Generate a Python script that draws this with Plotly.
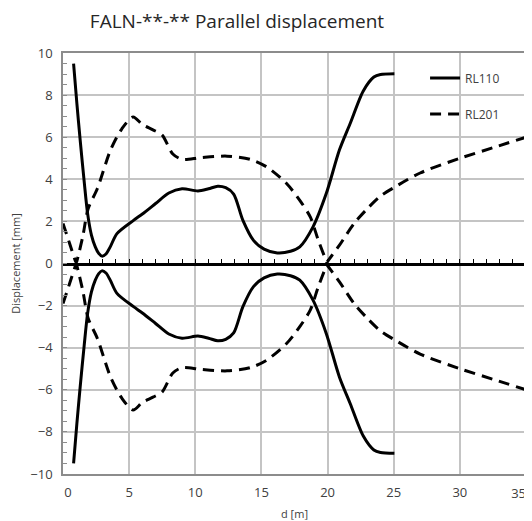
import plotly.graph_objects as go

# RL110 (solid) upper branch
rl110_x = [0.8, 1.05, 1.3, 1.6, 1.86, 2.15, 2.44, 2.7, 2.94, 3.25, 3.57, 4.08, 5.33, 6.0, 7.0, 8.0, 9.0, 10.2, 11.0, 11.7, 12.3, 12.9, 13.6, 14.4, 15.2, 16.2, 17.2, 17.9, 18.9, 19.9, 20.9, 21.7, 22.7, 23.5, 24.0, 25.05]
rl110_up = [9.5, 7.6, 5.85, 3.9, 2.37, 1.35, 0.79, 0.48, 0.35, 0.45, 0.79, 1.42, 2.05, 2.35, 2.85, 3.35, 3.55, 3.45, 3.55, 3.67, 3.6, 3.3, 2.05, 1.1, 0.68, 0.5, 0.58, 0.79, 1.74, 3.32, 5.4, 6.64, 8.2, 8.86, 8.98, 9.02]
rl110_lo = [-9.5, -7.6, -5.85, -3.9, -2.37, -1.35, -0.79, -0.48, -0.35, -0.45, -0.79, -1.42, -2.05, -2.35, -2.85, -3.35, -3.55, -3.45, -3.55, -3.67, -3.6, -3.3, -2.05, -1.1, -0.68, -0.5, -0.58, -0.79, -1.74, -3.32, -5.4, -6.64, -8.2, -8.86, -8.98, -9.02]

# RL201 (dashed) upper branch
rl201_x = [0.0, 0.5, 0.95, 1.0, 1.05, 1.5, 1.9, 2.6, 3.6, 4.45, 5.3, 6.0, 6.8, 7.5, 8.3, 9.0, 10.4, 12.4, 14.15, 15.4, 16.9, 17.9, 18.7, 19.3, 19.9, 19.95, 20.0, 20.9, 22.0, 23.0, 24.0, 25.0, 27.0, 30.0, 32.5, 35.0]
rl201_up = [1.9, 0.95, 0.1, 0.05, 0.12, 1.3, 2.6, 3.56, 5.4, 6.4, 6.96, 6.6, 6.35, 6.1, 5.2, 4.95, 5.03, 5.1, 4.95, 4.59, 3.8, 3.0, 2.2, 1.1, 0.12, 0.05, 0.1, 0.87, 1.9, 2.6, 3.2, 3.6, 4.3, 5.0, 5.5, 6.0]
rl201_lo = [-1.9, -0.95, -0.1, -0.05, -0.12, -1.3, -2.6, -3.56, -5.4, -6.4, -6.96, -6.6, -6.35, -6.1, -5.2, -4.95, -5.03, -5.1, -4.95, -4.59, -3.8, -3.0, -2.2, -1.1, -0.12, -0.05, -0.1, -0.87, -1.9, -2.6, -3.2, -3.6, -4.3, -5.0, -5.5, -6.0]

x_tickvals = [0, 5, 10, 15, 20, 25, 30]
x_ticktext = ["\u00a0\u00a0\u00a00", "5", "10", "15", "20", "25", "30"]
x_last_tickval = [35]
x_last_ticktext = ["35"]

title_text = "FALN-**-** Parallel displacement"
x_title = "d [m]"
y_title = "Displacement [mm]"

FONT = "Open Sans"
TXT = "#404040"
GRID = "#c4c4c4"
BORDER = "#8c8c8c"

W, H = 524, 513  # page body has an 8px margin

fig = go.Figure()
solid = dict(color="black", width=3, shape="spline", smoothing=0.8)
dashed = dict(color="black", width=3, dash="11px,7px", shape="spline", smoothing=0.8)

fig.add_trace(go.Scatter(x=rl110_x, y=rl110_up, mode="lines", line=solid, name="RL110",
                         legendgroup="a", showlegend=True))
fig.add_trace(go.Scatter(x=rl110_x, y=rl110_lo, mode="lines", line=solid, name="RL110",
                         legendgroup="a", showlegend=False))
fig.add_trace(go.Scatter(x=rl201_x, y=rl201_up, mode="lines", line=dashed, name="RL201",
                         legendgroup="b", showlegend=True))
fig.add_trace(go.Scatter(x=rl201_x, y=rl201_lo, mode="lines", line=dashed, name="RL201",
                         legendgroup="b", showlegend=False))
# helper traces for the extra axes (zero line with ticks, last tick label)
fig.add_trace(go.Scatter(x=[0], y=[0], xaxis="x2", yaxis="y", mode="markers",
                         marker=dict(opacity=0), showlegend=False, hoverinfo="skip"))
fig.add_trace(go.Scatter(x=[0], y=[0], xaxis="x3", yaxis="y", mode="markers",
                         marker=dict(opacity=0), showlegend=False, hoverinfo="skip"))

fig.update_layout(
    width=W, height=H,
    margin=dict(l=55, r=6, t=45, b=47, autoexpand=False),
    paper_bgcolor="white", plot_bgcolor="white",
    font=dict(family=FONT, color=TXT, size=12),
    title=dict(text=title_text, x=229 / W, xref="container", xanchor="center",
               y=1 - 13 / H, yref="container", yanchor="middle",
               font=dict(family=FONT, size=19, color="#262626")),
    xaxis=dict(range=[0, 35], tickvals=x_tickvals, ticktext=x_ticktext,
               showgrid=True, gridcolor=GRID, gridwidth=1.5,
               showline=True, linecolor=BORDER, linewidth=1.5, mirror=True,
               zeroline=False, ticks="", tickfont=dict(size=13, color=TXT),
               ticklabelstandoff=6, automargin=False,
               title=dict(text=x_title, font=dict(size=11, color=TXT))),
    xaxis3=dict(range=[0, 35], overlaying="x", anchor="y", side="bottom",
                tickvals=x_last_tickval, ticktext=x_last_ticktext,
                ticklabelposition="outside left", ticklabelstandoff=10,
                tickfont=dict(size=13, color=TXT), ticks="",
                showgrid=False, zeroline=False, showline=False, automargin=False),
    yaxis=dict(range=[-10, 10], dtick=2, tick0=0, showgrid=True, gridcolor=GRID, gridwidth=1.5,
               showline=True, linecolor=BORDER, linewidth=1.5, mirror=True,
               zeroline=False, ticks="inside", ticklen=4, tickcolor=BORDER,
               minor=dict(dtick=0.5, ticks="inside", ticklen=4, tickcolor=BORDER, showgrid=False),
               tickfont=dict(size=13, color=TXT), ticklabelstandoff=6,
               automargin=False,
               title=dict(text=y_title, font=dict(size=11, color=TXT))),
    xaxis2=dict(range=[0, 35], overlaying="x", anchor="free", position=0.5, side="bottom",
                showgrid=False, zeroline=False, showticklabels=False,
                showline=True, linecolor="black", linewidth=3,
                ticks="inside", dtick=1, tick0=0, ticklen=4, tickwidth=1.3, tickcolor="black"),
    legend=dict(x=0.782, y=0.975, xanchor="left", yanchor="top", bgcolor="rgba(0,0,0,0)",
                font=dict(size=12, color=TXT), tracegroupgap=17),
    showlegend=True,
)

fig.write_html("out.html")
